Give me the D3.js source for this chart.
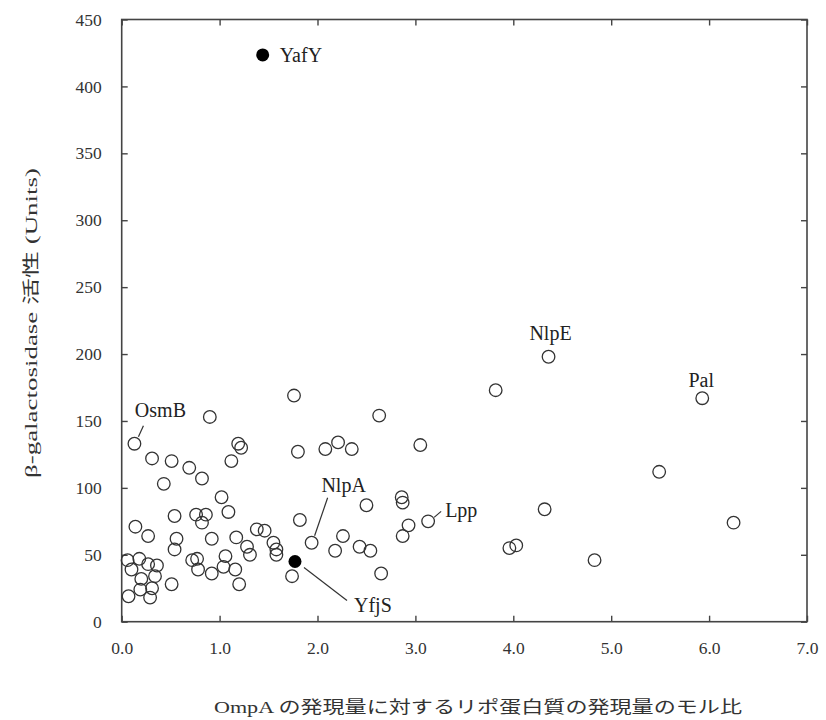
<!DOCTYPE html>
<html><head><meta charset="utf-8">
<script src="https://cdn.jsdelivr.net/npm/d3@7"></script>
<style>body{margin:0;background:#fff}svg{display:block}
svg text{font-family:"Liberation Serif","Times New Roman",Times,"DejaVu Serif",serif;}
</style>
</head><body>
<svg id="chart" width="826" height="720"></svg>
<script>
// Open circles: [ratio, activity]
const openX = [4.36,3.82,5.93,5.49,4.32,6.25,3.96,4.03,4.83,
  2.63,1.80,2.08,2.21,2.35,3.05,1.94,2.50,2.86,2.87,3.13,2.93,2.87,1.82,2.26,2.18,2.43,2.54,2.65,1.74,1.76,
  0.90,0.13,1.19,1.22,1.12,0.31,0.51,0.69,0.82,0.43,1.02,1.09,0.54,0.76,0.86,0.82,0.14,0.27,0.56,0.54,0.92,1.17,1.28,1.31,1.38,1.46,1.55,1.58,1.58,
  0.72,0.77,0.78,0.92,1.06,1.04,1.16,1.20,0.06,0.18,0.27,0.36,0.10,0.20,0.34,0.51,0.19,0.31,0.07,0.29];
const openY = [198,173,167,112,84,74,55,57,46,
  154,127,129,134,129,132,59,87,93,89,75,72,64,76,64,53,56,53,36,34,169,
  153,133,133,130,120,122,120,115,107,103,93,82,79,80,80,74,71,64,62,54,62,63,56,50,69,68,59,54,50,
  46,47,39,36,49,41,39,28,46,47,43,42,39,32,34,28,24,25,19,18];
// Filled (highlighted) points
const filledNames = ["YafY","YfjS"];
const filledX = [1.44,1.77];
const filledY = [423.5,45];
// Labelled open points
const labelNames = ["OsmB","NlpE","Pal","NlpA","Lpp"];
const labelX = [0.13,4.36,5.93,1.94,3.13];
const labelY = [133,198,167,59,75];
const xTicks = [0,1,2,3,4,5,6,7];
const yTicks = [0,50,100,150,200,250,300,350,400,450];
const xTitle = "OmpA の発現量に対するリポ蛋白質の発現量のモル比";
const yTitle = "β-galactosidase 活性 (Units)";

const svg = d3.select("#chart");
const L = 121.7, R = 807, T = 19.5, B = 621.7;
const x = d3.scaleLinear().domain([0,7]).range([L,R]);
const y = d3.scaleLinear().domain([0,450]).range([B,T]);
const font = '"Liberation Serif","Times New Roman",Times,"DejaVu Serif",serif';
const axCol = "#444";

svg.append("rect").attr("x",L).attr("y",T).attr("width",R-L).attr("height",B-T)
  .attr("fill","none").attr("stroke",axCol).attr("stroke-width",1.6);

function styleAxis(g){
  g.attr("font-family",null);
  g.select(".domain").remove();
  g.selectAll(".tick line").attr("stroke",axCol).attr("stroke-width",1.4);
  g.selectAll(".tick text").style("font-family",font).attr("font-size",17.5).attr("fill","#333");
}
svg.append("g").attr("transform",`translate(0,${B})`)
  .call(d3.axisBottom(x).tickValues(xTicks).tickFormat(d3.format(".1f")).tickSizeInner(-6).tickSizeOuter(0).tickPadding(20))
  .call(styleAxis);
svg.append("g").attr("transform",`translate(0,${T})`)
  .call(d3.axisTop(x).tickValues(xTicks).tickFormat("").tickSizeInner(-6).tickSizeOuter(0)).call(styleAxis);
svg.append("g").attr("transform",`translate(${L},0)`)
  .call(d3.axisLeft(y).tickValues(yTicks).tickSizeInner(-6).tickSizeOuter(0).tickPadding(20))
  .call(styleAxis);
svg.append("g").attr("transform",`translate(${R},0)`)
  .call(d3.axisRight(y).tickValues(yTicks).tickFormat("").tickSizeInner(-6).tickSizeOuter(0)).call(styleAxis);

const pts = openX.map((v,i)=>({x:v,y:openY[i]}));
svg.append("g").selectAll("circle").data(pts).join("circle")
  .attr("cx",d=>x(d.x)).attr("cy",d=>y(d.y)).attr("r",6.3)
  .attr("fill","none").attr("stroke","#333").attr("stroke-width",1.3);

const fpts = filledX.map((v,i)=>({x:v,y:filledY[i],n:filledNames[i]}));
svg.append("g").selectAll("circle").data(fpts).join("circle")
  .attr("cx",d=>x(d.x)).attr("cy",d=>y(d.y)).attr("r",6.5).attr("fill","#000");

const lab = {
  YafY:[17,0,"start",null],
  YfjS:[59,44,"start",[[9,6],[52,39]]],
  OsmB:[26,-34,"middle",[[4,-7],[9,-18]]],
  NlpE:[2,-24,"middle",null],
  Pal:[-1,-18,"middle",null],
  NlpA:[32,-58,"middle",[[3,-7],[16,-45]]],
  Lpp:[17,-11,"start",[[6,-4],[13,-10]]]
};
const allLab = fpts.map(d=>({n:d.n,x:d.x,y:d.y}))
  .concat(labelNames.map((n,i)=>({n:n,x:labelX[i],y:labelY[i]})));
allLab.forEach(d=>{
  const c = lab[d.n], px = x(d.x), py = y(d.y);
  svg.append("text").attr("x",px+c[0]).attr("y",py+c[1]).attr("dy","0.35em")
    .attr("text-anchor",c[2]).style("font-family",font).attr("font-size",20).attr("fill","#222").text(d.n);
  if(c[3]) svg.append("line").attr("x1",px+c[3][0][0]).attr("y1",py+c[3][0][1])
    .attr("x2",px+c[3][1][0]).attr("y2",py+c[3][1][1]).attr("stroke","#333").attr("stroke-width",1.2);
});

svg.append("text").attr("x",478).attr("y",707).attr("dy","0.35em").attr("text-anchor","middle")
  .style("font-family",'"Liberation Serif","Noto Sans CJK JP",serif').attr("font-size",17).attr("fill","#333")
  .attr("textLength",528).attr("lengthAdjust","spacingAndGlyphs").text(xTitle);
svg.append("text").attr("transform","translate(31,323) rotate(-90)").attr("dy","0.35em")
  .attr("text-anchor","middle").style("font-family",'"Liberation Serif","Noto Sans CJK JP",serif').attr("font-size",17).attr("fill","#333")
  .attr("textLength",310).attr("lengthAdjust","spacingAndGlyphs").text(yTitle);
</script>
</body></html>
